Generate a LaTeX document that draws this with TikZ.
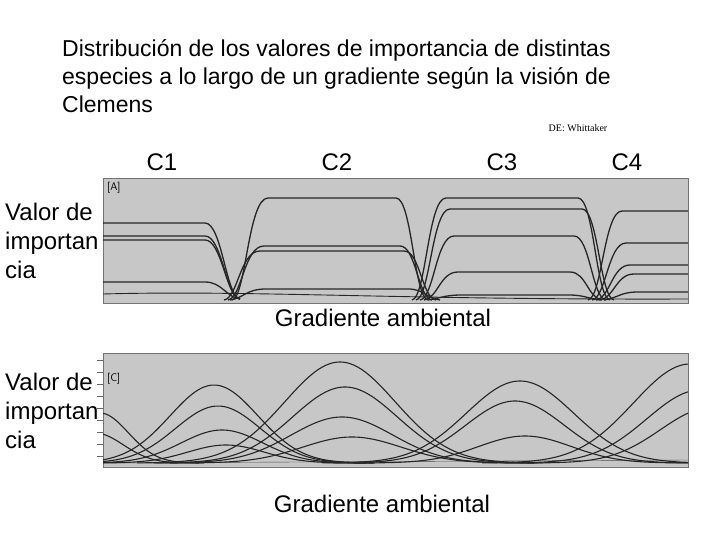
\documentclass[tikz,border=0pt]{standalone}
\usepackage{fontspec}
\setmainfont{Liberation Sans}
\newfontfamily\serifw{Liberation Serif}
\begin{document}
\begin{tikzpicture}[x=1pt,y=-1pt,
  lbl/.style={font=\fontsize{24}{29}\selectfont,inner sep=0pt},
  ttl/.style={font=\fontsize{23}{28}\selectfont,inner sep=0pt},
  panel/.style={fill=black!22,draw=black!55},
  crv/.style={line width=1.3pt,black!85}]
\useasboundingbox (0,0) rectangle (720,540);
\node[ttl,anchor=north west,align=left] (title) at (62,39) {Distribución de los valores de importancia de distintas\\especies a lo largo de un gradiente según la visión de\\Clemens};
\node[anchor=center,font=\serifw\fontsize{10}{12}\selectfont] (de) at (578,128) {DE: Whittaker};
\node[lbl] (c1) at (162,162) {C1};
\node[lbl] (c2) at (337,162) {C2};
\node[lbl] (c3) at (502,162) {C3};
\node[lbl] (c4) at (627,162) {C4};
\node[lbl,anchor=north west,align=left] (v1) at (5,203) {Valor de\\importan\\cia};
\node[lbl,anchor=north west,align=left] (v2) at (5,373) {Valor de\\importan\\cia};
\node[lbl] (g1) at (383,318) {Gradiente ambiental};
\node[lbl] (g2) at (382,504) {Gradiente ambiental};
% panel A
\path[panel] (103,178) rectangle (688,303);
\node[font=\sffamily\fontsize{11}{12}\selectfont,anchor=north west,inner sep=1pt] (pa) at (106,181) {[A]};
\begin{scope}
\clip (103,178) rectangle (688,303);
\foreach \p in {223,236,240,282}{
  \draw[crv] (100,\p) -- (205,\p) .. controls (222,\p) and (226,297) .. (240,299);
}
\foreach \p/\a/\b in {198/240/418,246/236/422,251/232/426,289/238/430}{
  \draw[crv] (\a-8,300) .. controls (\a+6,298) and (\a+8,\p) .. (\a+28,\p) -- (\b-22,\p) .. controls (\b-6,\p) and (\b-4,298) .. (\b+10,300);
}
\foreach \p/\a/\b in {198/420/600,209/424/604,236/428/596,272/432/592,295/436/590}{
  \draw[crv] (\a-8,300) .. controls (\a+6,298) and (\a+8,\p) .. (\a+26,\p) -- (\b-22,\p) .. controls (\b-6,\p) and (\b-4,298) .. (\b+10,300);
}
\foreach \p/\a in {211/596,243/600,265/604,274/608,292/612}{
  \draw[crv] (\a-8,300) .. controls (\a+6,298) and (\a+8,\p) .. (\a+26,\p) -- (700,\p);
}
\draw[crv,line width=0.9pt] (103,294) .. controls (250,290) and (400,300) .. (688,299);
\end{scope}
% panel C
\path[panel] (103,353) rectangle (688,467);
\foreach \t in {360,372,384,396,408,420,432,444,456}{\draw[black!60] (97,\t) -- (103,\t);}
\node[font=\sffamily\fontsize{11}{12}\selectfont,anchor=north west,inner sep=1pt] (pc) at (106,372) {[C]};
\begin{scope}
\clip (103,353) rectangle (688,467);
\draw[black!70] (103,463) -- (688,460);
\foreach \c/\h/\w in {214/78/62,218/57/60,222/33/58,226/18/54,
                      340/101/78,345/76/74,342/46/72,352/26/70,
                      520/82/76,515/62/70,525/27/66,
                      690/99/80,700/73/75,710/55/70,
                      100/50/40,95/30/40}{
  \draw[crv,line width=1.1pt,domain=\c-2.6*\w:\c+2.6*\w,samples=80,smooth] plot (\x,{463-\h*exp(-((\x-\c)/\w)^2)});
}
\end{scope}
\end{tikzpicture}
\end{document}
